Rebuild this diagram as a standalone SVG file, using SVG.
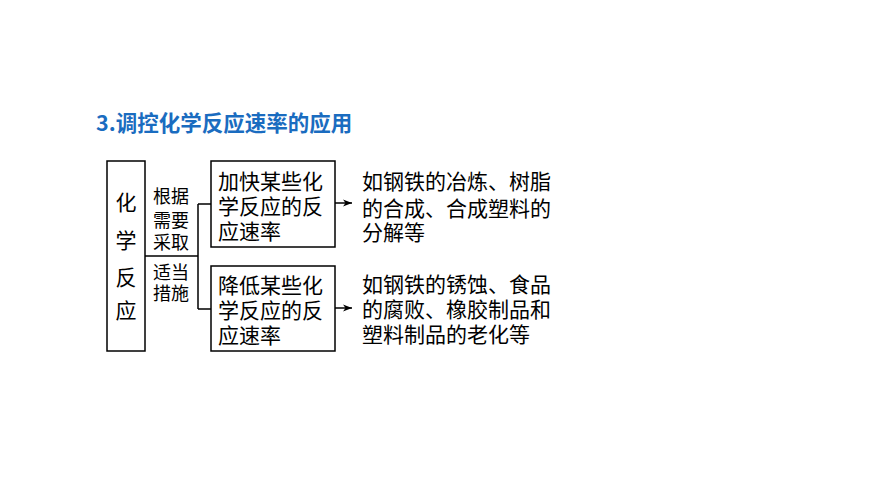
<svg xmlns="http://www.w3.org/2000/svg" width="870" height="489" viewBox="0 0 870 489">
<defs>
<style>
.t{font-family:"Noto Sans CJK SC","Liberation Sans",sans-serif;fill:#000}
.b{font-size:21px}
.s{font-size:18px}
.box{fill:#fff;stroke:#000;stroke-width:1.5}
.ln{fill:none;stroke:#000;stroke-width:1.5}
</style>
<marker id="ah" markerWidth="10" markerHeight="8" refX="9" refY="4" orient="auto" markerUnits="userSpaceOnUse">
<path d="M0,0.5 L9,4 L0,7.5 L2.5,4 Z" fill="#000"/>
</marker>
</defs>
<rect width="870" height="489" fill="#fff"/>
<text x="96" y="131" font-family="'Noto Sans CJK SC','Liberation Sans',sans-serif" font-size="21.5" font-weight="bold" fill="#1a6cc0">3.调控化学反应速率的应用</text>
<g id="connectors">
<path class="ln" d="M145,256 H198 M198,204 V309 M198,204 H211 M198,309 H211"/>
<path class="ln" d="M335,203 H352" marker-end="url(#ah)"/>
<path class="ln" d="M335,308 H352" marker-end="url(#ah)"/>
</g>
<g id="root">
<rect class="box" x="107" y="161" width="38" height="190"/>
<text class="t b" text-anchor="middle"><tspan x="126" y="210">化</tspan><tspan x="126" y="248">学</tspan><tspan x="126" y="285">反</tspan><tspan x="126" y="318">应</tspan></text>
</g>
<g id="label">
<text class="t s" text-anchor="middle"><tspan x="171" y="203">根据</tspan><tspan x="171" y="227">需要</tspan><tspan x="171" y="249">采取</tspan><tspan x="171" y="279">适当</tspan><tspan x="171" y="300">措施</tspan></text>
</g>
<g id="speedup">
<rect class="box" x="211" y="161" width="124" height="86"/>
<text class="t b"><tspan x="218" y="189">加快某些化</tspan><tspan x="218" y="214">学反应的反</tspan><tspan x="218" y="239">应速率</tspan></text>
</g>
<g id="slowdown">
<rect class="box" x="211" y="266" width="124" height="85"/>
<text class="t b"><tspan x="218" y="293">降低某些化</tspan><tspan x="218" y="318">学反应的反</tspan><tspan x="218" y="343">应速率</tspan></text>
</g>
<g id="ex1">
<text class="t b"><tspan x="362" y="189">如钢铁的冶炼、树脂</tspan><tspan x="362" y="216">的合成、合成塑料的</tspan><tspan x="362" y="240">分解等</tspan></text>
</g>
<g id="ex2">
<text class="t b"><tspan x="362" y="292">如钢铁的锈蚀、食品</tspan><tspan x="362" y="317">的腐败、橡胶制品和</tspan><tspan x="362" y="342">塑料制品的老化等</tspan></text>
</g>
</svg>
